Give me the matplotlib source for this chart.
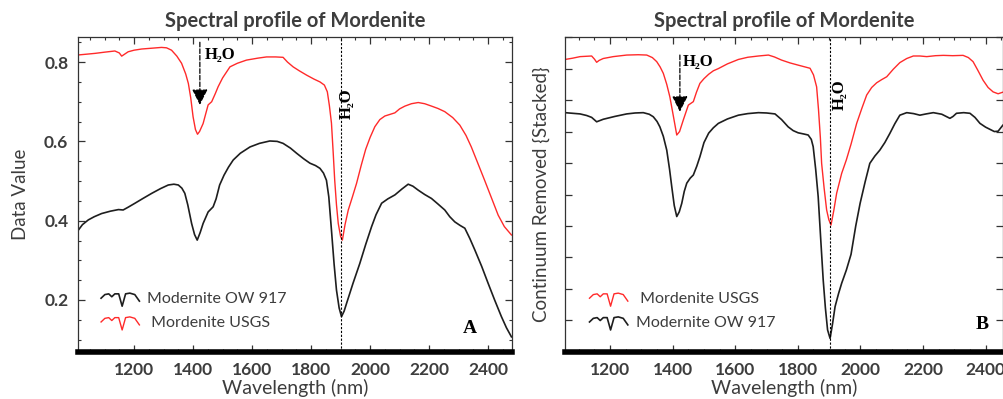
import numpy as np
import matplotlib
matplotlib.use("Agg")
from matplotlib import pyplot as plt
from matplotlib.legend_handler import HandlerBase
from matplotlib.lines import Line2D
from matplotlib.ticker import MultipleLocator

# ---- panel A: reflectance (Data Value) ----
a_usgs_nm = [1011, 1040, 1068, 1100, 1135, 1150, 1158, 1168, 1180, 1200, 1226, 1260, 1293, 1310,
             1327, 1345, 1361, 1375, 1384, 1392, 1400, 1408, 1415, 1422, 1434, 1443, 1451, 1463,
             1475, 1485, 1500, 1525, 1550, 1581, 1620, 1649, 1680, 1705, 1720, 1739, 1760, 1785,
             1810, 1830, 1845, 1855, 1862, 1869, 1875, 1880, 1886, 1892, 1900, 1906, 1915, 1926,
             1940, 1954, 1970, 1985, 2000, 2016, 2033, 2050, 2067, 2084, 2100, 2118, 2140, 2163,
             2185, 2208, 2230, 2253, 2280, 2304, 2325, 2343, 2365, 2388, 2410, 2434, 2455, 2479]
a_usgs_val = [0.818, 0.820, 0.822, 0.825, 0.828, 0.823, 0.815, 0.820, 0.826, 0.830, 0.833, 0.835,
              0.837, 0.836, 0.830, 0.815, 0.797, 0.770, 0.746, 0.710, 0.662, 0.630, 0.618, 0.625,
              0.645, 0.670, 0.692, 0.700, 0.720, 0.738, 0.760, 0.788, 0.797, 0.805, 0.810, 0.813,
              0.813, 0.812, 0.800, 0.788, 0.778, 0.767, 0.757, 0.750, 0.742, 0.725, 0.690, 0.646,
              0.570, 0.502, 0.440, 0.393, 0.360, 0.351, 0.390, 0.427, 0.460, 0.494, 0.540, 0.580,
              0.610, 0.637, 0.655, 0.664, 0.668, 0.672, 0.682, 0.689, 0.695, 0.698, 0.695, 0.689,
              0.683, 0.675, 0.660, 0.641, 0.615, 0.586, 0.545, 0.502, 0.460, 0.414, 0.385, 0.364]

a_ow_nm = [1011, 1025, 1045, 1065, 1090, 1120, 1147, 1163, 1180, 1203, 1230, 1260, 1290, 1316,
           1335, 1350, 1362, 1372, 1382, 1395, 1405, 1414, 1424, 1434, 1451, 1468, 1478, 1490,
           1505, 1520, 1536, 1560, 1593, 1625, 1660, 1685, 1705, 1730, 1751, 1775, 1796, 1815,
           1830, 1842, 1852, 1860, 1869, 1878, 1886, 1895, 1903, 1912, 1920, 1942, 1965, 1985,
           2005, 2020, 2039, 2060, 2084, 2108, 2129, 2145, 2163, 2185, 2208, 2230, 2253, 2270,
           2287, 2305, 2321, 2338, 2355, 2378, 2400, 2422, 2445, 2462, 2479]
a_ow_val = [0.376, 0.390, 0.402, 0.410, 0.418, 0.424, 0.428, 0.427, 0.434, 0.444, 0.456, 0.469,
            0.481, 0.490, 0.492, 0.490, 0.482, 0.469, 0.440, 0.393, 0.365, 0.351, 0.370, 0.393,
            0.422, 0.435, 0.455, 0.490, 0.515, 0.535, 0.553, 0.570, 0.586, 0.595, 0.601, 0.600,
            0.595, 0.583, 0.570, 0.556, 0.545, 0.539, 0.532, 0.520, 0.502, 0.460, 0.376, 0.290,
            0.225, 0.180, 0.158, 0.172, 0.191, 0.242, 0.292, 0.340, 0.385, 0.415, 0.444, 0.455,
            0.465, 0.480, 0.492, 0.487, 0.477, 0.466, 0.456, 0.442, 0.427, 0.410, 0.397, 0.388,
            0.381, 0.355, 0.326, 0.285, 0.242, 0.200, 0.158, 0.130, 0.107]

# ---- panel B: continuum removed, stacked ----
b_usgs_nm = [1056, 1080, 1104, 1141, 1150, 1157, 1165, 1178, 1210, 1253, 1290, 1317, 1335, 1349,
             1360, 1370, 1381, 1391, 1402, 1413, 1422, 1434, 1450, 1466, 1476, 1487, 1500, 1515,
             1530, 1546, 1575, 1610, 1640, 1674, 1706, 1725, 1748, 1775, 1801, 1820, 1839, 1850,
             1860, 1866, 1872, 1876, 1884, 1892, 1899, 1906, 1915, 1924, 1940, 1955, 1970, 1988,
             2005, 2020, 2036, 2052, 2068, 2084, 2105, 2126, 2148, 2169, 2190, 2212, 2240, 2265,
             2295, 2328, 2345, 2360, 2375, 2392, 2408, 2424, 2440, 2455]
b_usgs_val = [0.929, 0.933, 0.938, 0.940, 0.930, 0.920, 0.926, 0.932, 0.938, 0.943, 0.944, 0.943,
              0.935, 0.922, 0.905, 0.885, 0.850, 0.810, 0.750, 0.689, 0.700, 0.737, 0.784, 0.795,
              0.825, 0.853, 0.868, 0.882, 0.893, 0.900, 0.915, 0.929, 0.936, 0.940, 0.943, 0.937,
              0.927, 0.918, 0.911, 0.906, 0.901, 0.880, 0.842, 0.770, 0.680, 0.599, 0.520, 0.451,
              0.420, 0.403, 0.450, 0.504, 0.567, 0.610, 0.660, 0.726, 0.775, 0.816, 0.840, 0.855,
              0.865, 0.874, 0.898, 0.919, 0.932, 0.940, 0.940, 0.938, 0.941, 0.942, 0.941, 0.942,
              0.935, 0.922, 0.895, 0.863, 0.840, 0.826, 0.820, 0.825]

b_ow_nm = [1056, 1080, 1104, 1125, 1141, 1157, 1178, 1215, 1253, 1280, 1306, 1325, 1338, 1350,
           1359, 1370, 1381, 1390, 1397, 1405, 1413, 1421, 1429, 1437, 1445, 1456, 1466, 1477,
           1487, 1500, 1515, 1530, 1546, 1575, 1610, 1640, 1674, 1700, 1727, 1748, 1769, 1785,
           1801, 1820, 1833, 1843, 1849, 1857, 1865, 1873, 1881, 1888, 1895, 1903, 1911, 1919,
           1930, 1940, 1955, 1970, 1985, 1999, 2015, 2030, 2046, 2062, 2078, 2094, 2110, 2126,
           2148, 2170, 2190, 2210, 2233, 2260, 2286, 2296, 2307, 2330, 2350, 2366, 2382, 2400,
           2414, 2428, 2440, 2455]
b_ow_val = [0.760, 0.758, 0.756, 0.751, 0.745, 0.731, 0.739, 0.748, 0.756, 0.759, 0.760, 0.755,
            0.747, 0.732, 0.715, 0.685, 0.641, 0.580, 0.525, 0.465, 0.430, 0.445, 0.472, 0.510,
            0.536, 0.552, 0.562, 0.590, 0.620, 0.665, 0.695, 0.712, 0.726, 0.740, 0.752, 0.757,
            0.760, 0.759, 0.756, 0.738, 0.715, 0.703, 0.696, 0.692, 0.689, 0.675, 0.652, 0.580,
            0.493, 0.360, 0.229, 0.140, 0.070, 0.043, 0.090, 0.144, 0.185, 0.218, 0.260, 0.310,
            0.400, 0.472, 0.540, 0.599, 0.622, 0.641, 0.665, 0.694, 0.725, 0.752, 0.760, 0.757,
            0.752, 0.756, 0.760, 0.755, 0.742, 0.748, 0.758, 0.760, 0.758, 0.745, 0.726, 0.714,
            0.707, 0.700, 0.701, 0.720]

TEXT = "#3d3d3d"
RED = "#ff2a2a"
BLACK = "#1e1e1e"
SANS = ["Lato", "DejaVu Sans"]
SERIF = ["Liberation Serif", "DejaVu Serif"]


class DipHandler(HandlerBase):
    """small spectrum-like squiggle used as legend key"""
    def create_artists(self, legend, orig_handle, xdescent, ydescent,
                       width, height, fontsize, trans):
        fx = np.array([0.0, 0.1, 0.2, 0.28, 0.36, 0.46, 0.55, 0.64, 0.75, 0.88, 1.0])
        fy = np.array([0.4, 0.65, 0.7, 0.5, 0.7, 0.7, -0.15, 0.7, 0.75, 0.65, 0.2])
        line = Line2D(fx * width - xdescent, fy * height * 1.3 - ydescent - 0.1 * height,
                      color=orig_handle.get_color(), lw=orig_handle.get_linewidth())
        line.set_transform(trans)
        return [line]


def style_axes(ax, xlim, ylim):
    ax.set_xlim(*xlim)
    ax.set_ylim(*ylim)
    for side in ["top", "left", "right"]:
        ax.spines[side].set_color("#333333")
        ax.spines[side].set_linewidth(0.9)
    ax.spines["bottom"].set_color("black")
    ax.spines["bottom"].set_linewidth(4.0)
    ax.xaxis.set_major_locator(MultipleLocator(200))
    ax.xaxis.set_minor_locator(MultipleLocator(50))
    ax.tick_params(which="both", direction="in", top=True, right=True,
                   color="#333333", labelcolor=TEXT, labelsize=12.5, pad=7)
    ax.tick_params(which="major", length=5, width=0.9)
    ax.tick_params(which="minor", length=2.5, width=0.8)
    for lab in ax.get_xticklabels() + ax.get_yticklabels():
        lab.set_family(SANS)
        lab.set_fontweight("bold")
    ax.set_title("Spectral profile of Mordenite", family=SANS, fontsize=14.5,
                 fontweight="bold", color=TEXT, pad=7)
    ax.set_xlabel("Wavelength (nm)", family=SANS, fontsize=14, color=TEXT, labelpad=1)


fig = plt.figure(figsize=(10.04, 3.99), dpi=100)
axA = fig.add_axes([0.0777, 0.118, 0.432, 0.789])
axB = fig.add_axes([0.5628, 0.118, 0.436, 0.789])

# panel A
axA.plot(a_usgs_nm, a_usgs_val, color=RED, lw=1.0, label=" Mordenite USGS")
axA.plot(a_ow_nm, a_ow_val, color=BLACK, lw=1.2, label="Modernite OW 917")
style_axes(axA, (1010, 2480), (0.069, 0.863))
axA.yaxis.set_major_locator(MultipleLocator(0.2))
axA.yaxis.set_minor_locator(MultipleLocator(0.05))
axA.set_yticks([0.2, 0.4, 0.6, 0.8])
axA.set_yticklabels(["0.2", "0.4", "0.6", "0.8"], family=SANS, fontweight="bold")
axA.set_ylabel("Data Value", family=SANS, fontsize=13.5, color=TEXT, labelpad=11)
axA.axvline(1900, color="black", lw=0.8, ls=(0, (2, 1.5)))
axA.annotate("", xy=(1423, 0.692), xytext=(1423, 0.85),
             arrowprops=dict(arrowstyle="-|>", ls="--", color="black", lw=0.9,
                             mutation_scale=24, shrinkA=0, shrinkB=0))
axA.text(1440, 0.818, "H₂O", family=SERIF, fontweight="bold", fontsize=12, va="center")
axA.text(1921, 0.694, "H₂O", family=SERIF, fontweight="bold", fontsize=12,
         rotation=90, ha="center", va="center")
axA.text(2338, 0.127, "A", family=SERIF, fontweight="bold", fontsize=14, ha="center", va="center")
hA, lA = axA.get_legend_handles_labels()
legA = axA.legend([hA[1], hA[0]], [lA[1], lA[0]], loc="lower left",
                  bbox_to_anchor=(0.02, 0.025), frameon=False, handlelength=2.4,
                  handletextpad=0.5, labelspacing=0.6,
                  handler_map={Line2D: DipHandler()},
                  prop={"family": SANS, "size": 11.5})
for t in legA.get_texts():
    t.set_color(TEXT)

# panel B
axB.plot(b_usgs_nm, b_usgs_val, color=RED, lw=1.0, label=" Mordenite USGS")
axB.plot(b_ow_nm, b_ow_val, color=BLACK, lw=1.2, label="Modernite OW 917")
style_axes(axB, (1056, 2455), (0.0, 1.0))
axB.yaxis.set_major_locator(MultipleLocator(0.1))
axB.yaxis.set_minor_locator(MultipleLocator(0.1))
axB.tick_params(axis="y", labelleft=False)
axB.set_ylabel("Continuum Removed {Stacked}", family=SANS, fontsize=13.5, color=TEXT, labelpad=11)
axB.axvline(1904, color="black", lw=0.8, ls=(0, (2, 1.5)))
axB.annotate("", xy=(1423, 0.763), xytext=(1423, 0.943),
             arrowprops=dict(arrowstyle="-|>", ls="--", color="black", lw=0.9,
                             mutation_scale=24, shrinkA=0, shrinkB=0))
axB.text(1433, 0.921, "H₂O", family=SERIF, fontweight="bold", fontsize=12, va="center")
axB.text(1935, 0.816, "H₂O", family=SERIF, fontweight="bold", fontsize=12,
         rotation=90, ha="center", va="center")
axB.text(2388, 0.086, "B", family=SERIF, fontweight="bold", fontsize=14, ha="center", va="center")
legB = axB.legend(loc="lower left", bbox_to_anchor=(0.023, 0.025), frameon=False,
                  handlelength=2.4, handletextpad=0.5, labelspacing=0.6,
                  handler_map={Line2D: DipHandler()},
                  prop={"family": SANS, "size": 11.5})
for t in legB.get_texts():
    t.set_color(TEXT)

fig.savefig("out.png", dpi=100)
plt.close(fig)
